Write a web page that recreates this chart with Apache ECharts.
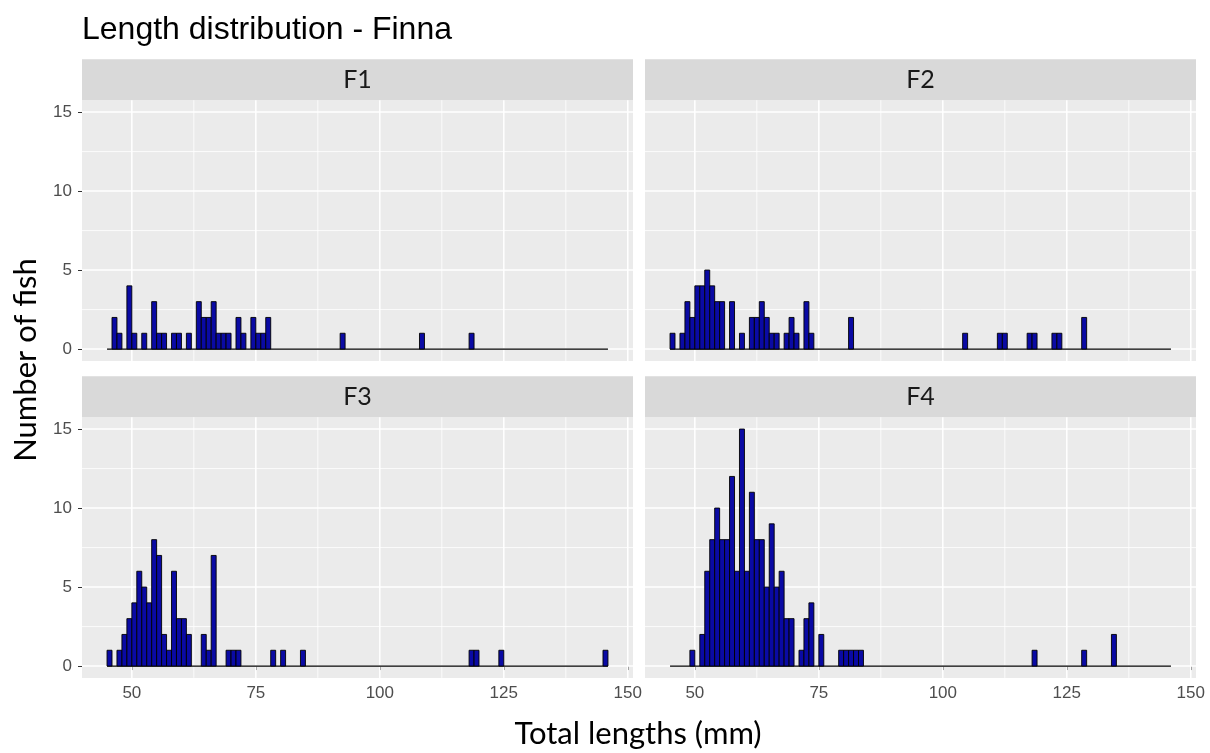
<!DOCTYPE html>
<html><head><meta charset="utf-8">
<script src="https://cdn.jsdelivr.net/npm/echarts@6/dist/echarts.min.js"></script>
<style>html,body{margin:0;padding:0;background:#fff}#c{width:1210px;height:753px}</style>
</head><body><div id="c"></div>
<script>
// ---- data (bin start in mm, count) ----
const facetNames = ['F1', 'F2', 'F3', 'F4'];
const f1Len = [46,47,49,50,52,54,55,56,58,59,61,63,64,65,66,67,68,69,71,72,74,75,76,77,92,108,118];
const f1Cnt = [2,1,4,1,1,3,1,1,1,1,1,3,2,2,3,1,1,1,2,1,2,1,1,2,1,1,1];
const f2Len = [45,47,48,49,50,51,52,53,54,55,57,59,61,62,63,64,65,66,68,69,70,72,73,81,104,111,112,117,118,122,123,128];
const f2Cnt = [1,1,3,2,4,4,5,4,3,3,3,1,2,2,3,2,1,1,1,2,1,3,1,2,1,1,1,1,1,1,1,2];
const f3Len = [45,47,48,49,50,51,52,53,54,55,56,57,58,59,60,61,64,65,66,69,70,71,78,80,84,118,119,124,145];
const f3Cnt = [1,1,2,3,4,6,5,4,8,7,2,1,6,3,3,2,2,1,7,1,1,1,1,1,1,1,1,1,1];
const f4Len = [49,51,52,53,54,55,56,57,58,59,60,61,62,63,64,65,66,67,68,69,71,72,73,75,79,80,81,82,83,118,128,134];
const f4Cnt = [1,2,6,8,10,8,8,12,6,15,6,11,8,8,5,9,5,6,3,3,1,3,4,2,1,1,1,1,1,1,1,2];
const binRange = [45, 146];
const xTicks = [50, 75, 100, 125, 150];
const xMinor = [62.5, 87.5, 112.5, 137.5];
const yTicks = [0, 5, 10, 15];
const yMinor = [2.5, 7.5, 12.5];
const titleText = 'Length distribution - Finna';
const xTitle = 'Total lengths (mm)';
const yTitle = 'Number of fish';

// ---- layout ----
const xMin = 39.95, xMax = 151.05, yMin = -0.75, yMax = 15.75;
const PW = 551, PH = 260.7;
const lefts = [82, 645, 82, 645];
const tops = [100.2, 100.2, 417.2, 417.2];
const stripH = 41;
const BAR_FILL = '#0A0AA4';
const TICK_FONT = '"Liberation Sans", Arial, sans-serif';
const LABEL_FONT = 'Lato, "Open Sans", sans-serif';

const lens = [f1Len, f2Len, f3Len, f4Len];
const cnts = [f1Cnt, f2Cnt, f3Cnt, f4Cnt];

const grids = [], xAxes = [], yAxes = [], series = [], graphics = [];
for (let i = 0; i < 4; i++) {
  const bottomRow = i >= 2, leftCol = i % 2 === 0;
  grids.push({left: lefts[i], top: tops[i], width: PW, height: PH, show: true,
    backgroundColor: '#EBEBEB', borderWidth: 0, containLabel: false});
  xAxes.push({type: 'value', gridIndex: i, min: xMin, max: xMax,
    axisLine: {show: false}, splitLine: {show: false},
    axisTick: {show: bottomRow, customValues: xTicks, length: 4, lineStyle: {color: '#333333', width: 1}},
    axisLabel: {show: bottomRow, customValues: xTicks, color: '#4D4D4D', fontSize: 17,
      fontFamily: TICK_FONT, margin: 7}});
  yAxes.push({type: 'value', gridIndex: i, min: yMin, max: yMax,
    axisLine: {show: false}, splitLine: {show: false},
    axisTick: {show: leftCol, customValues: yTicks, length: 4, lineStyle: {color: '#333333', width: 1}},
    axisLabel: {show: leftCol, customValues: yTicks, color: '#4D4D4D', fontSize: 17,
      fontFamily: TICK_FONT, margin: 10}});
  // grid lines
  const gl = [];
  xTicks.forEach(v => gl.push([v, 1, 1]));
  xMinor.forEach(v => gl.push([v, 1, 0]));
  yTicks.forEach(v => gl.push([v, 0, 1]));
  yMinor.forEach(v => gl.push([v, 0, 0]));
  series.push({type: 'custom', xAxisIndex: i, yAxisIndex: i, z: 1, silent: true,
    data: gl, encode: {x: 0, y: 1},
    renderItem: function (params, api) {
      const cs = params.coordSys;
      const v = api.value(0), vert = api.value(1), major = api.value(2);
      const style = {stroke: '#FFFFFF', lineWidth: major ? 1.5 : 0.8};
      if (vert) {
        const p = api.coord([v, 0]);
        return {type: 'line', shape: {x1: p[0], y1: cs.y, x2: p[0], y2: cs.y + cs.height}, style};
      }
      const p = api.coord([50, v]);
      return {type: 'line', shape: {x1: cs.x, y1: p[1], x2: cs.x + cs.width, y2: p[1]}, style};
    }});
  // zero line (outline of empty bins)
  series.push({type: 'line', xAxisIndex: i, yAxisIndex: i, z: 2, silent: true, symbol: 'none',
    data: [[binRange[0], 0], [binRange[1], 0]], lineStyle: {color: '#000', width: 1.3}});
  // bars
  series.push({type: 'custom', xAxisIndex: i, yAxisIndex: i, z: 3, silent: true,
    data: lens[i].map((l, k) => [l, cnts[i][k]]), encode: {x: 0, y: 1},
    renderItem: function (params, api) {
      const x = api.value(0), c = api.value(1);
      const a = api.coord([x, c]), b = api.coord([x + 1, 0]);
      return {type: 'rect', shape: {x: a[0], y: a[1], width: b[0] - a[0], height: b[1] - a[1]},
        style: {fill: BAR_FILL, stroke: '#000', lineWidth: 0.9}};
    }});
  // strip
  graphics.push({type: 'rect', left: lefts[i], top: tops[i] - stripH, silent: true,
    shape: {width: PW, height: stripH}, style: {fill: '#D9D9D9'}});
  graphics.push({type: 'text', x: lefts[i] + PW / 2, y: tops[i] - stripH / 2, silent: true,
    style: {text: facetNames[i], fill: '#1A1A1A', font: '25px ' + LABEL_FONT,
      align: 'center', verticalAlign: 'middle'}});
}
graphics.push({type: 'text', x: 82, y: 30, silent: true,
  style: {text: titleText, fill: '#000', font: '32px "Liberation Sans", Arial, sans-serif', verticalAlign: 'middle'}});
graphics.push({type: 'text', x: 638, y: 734, silent: true,
  style: {text: xTitle, fill: '#000', font: '31px ' + LABEL_FONT, align: 'center', verticalAlign: 'middle'}});
graphics.push({type: 'text', x: 26, y: 360, rotation: Math.PI / 2, silent: true,
  style: {text: yTitle, fill: '#000', font: '31px ' + LABEL_FONT, align: 'center', verticalAlign: 'middle'}});

const chart = echarts.init(document.getElementById('c'), null, {renderer: 'canvas'});
chart.setOption({animation: false, backgroundColor: '#FFFFFF',
  grid: grids, xAxis: xAxes, yAxis: yAxes, series: series, graphic: graphics});
</script></body></html>
